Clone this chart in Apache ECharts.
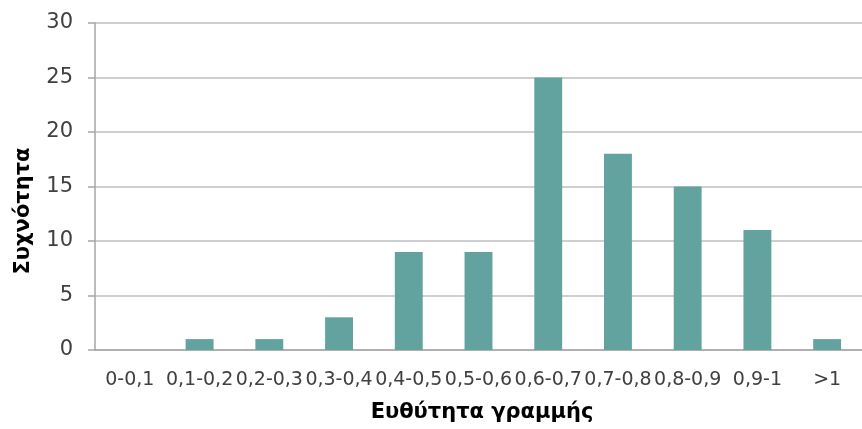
<!DOCTYPE html>
<html>
<head>
<meta charset="utf-8">
<script src="https://cdn.jsdelivr.net/npm/echarts@6/dist/echarts.min.js"></script>
<style>
  html, body { margin: 0; padding: 0; background: #ffffff; }
  #chart { width: 862px; height: 429px; }
</style>
</head>
<body>
<div id="chart"></div>
<script>
// Straightness classes and how many lines fall in each
const categories = ['0-0,1', '0,1-0,2', '0,2-0,3', '0,3-0,4', '0,4-0,5', '0,5-0,6',
                    '0,6-0,7', '0,7-0,8', '0,8-0,9', '0,9-1', '>1'];
const frequency = [0, 1, 1, 3, 9, 9, 25, 18, 15, 11, 1];
const yTicks = { min: 0, max: 30, interval: 5 };

const xTitle = 'Ευθύτητα γραμμής';
const yTitle = 'Συχνότητα';

const font = '"DejaVu Sans", "Noto Sans", sans-serif';
const chart = echarts.init(document.getElementById('chart'), null, { renderer: 'canvas' });

chart.setOption({
  animation: false,
  backgroundColor: '#ffffff',
  grid: { left: 95, right: -10, top: 23, bottom: 79, containLabel: false },
  xAxis: {
    type: 'category',
    data: categories,
    axisLine: { show: true, lineStyle: { color: '#a6a6a6', width: 1.5 } },
    axisTick: { show: false },
    axisLabel: { interval: 0, color: '#404040', fontSize: 19, fontFamily: font, margin: 21 }
  },
  yAxis: {
    type: 'value',
    min: yTicks.min, max: yTicks.max, interval: yTicks.interval,
    axisLine: { show: true, lineStyle: { color: '#a6a6a6', width: 1.5 } },
    axisTick: { show: true, length: 7, lineStyle: { color: '#a6a6a6', width: 1.5 } },
    splitLine: { show: true, lineStyle: { color: '#bfbfbf', width: 1.5 } },
    axisLabel: { color: '#404040', fontSize: 21, fontFamily: font, margin: 22 }
  },
  graphic: [
    {
      type: 'text', x: 482, y: 413,
      style: { text: xTitle, fill: '#000000', font: 'bold 21px ' + font,
               textAlign: 'center', textVerticalAlign: 'middle' }
    },
    {
      type: 'text', x: 24, y: 211, rotation: Math.PI / 2,
      style: { text: yTitle, fill: '#000000', font: 'bold 21px ' + font,
               textAlign: 'center', textVerticalAlign: 'middle' }
    }
  ],
  series: [{
    type: 'bar',
    data: frequency,
    barWidth: '40%',
    itemStyle: { color: '#62a39f' }
  }]
});
</script>
</body>
</html>
